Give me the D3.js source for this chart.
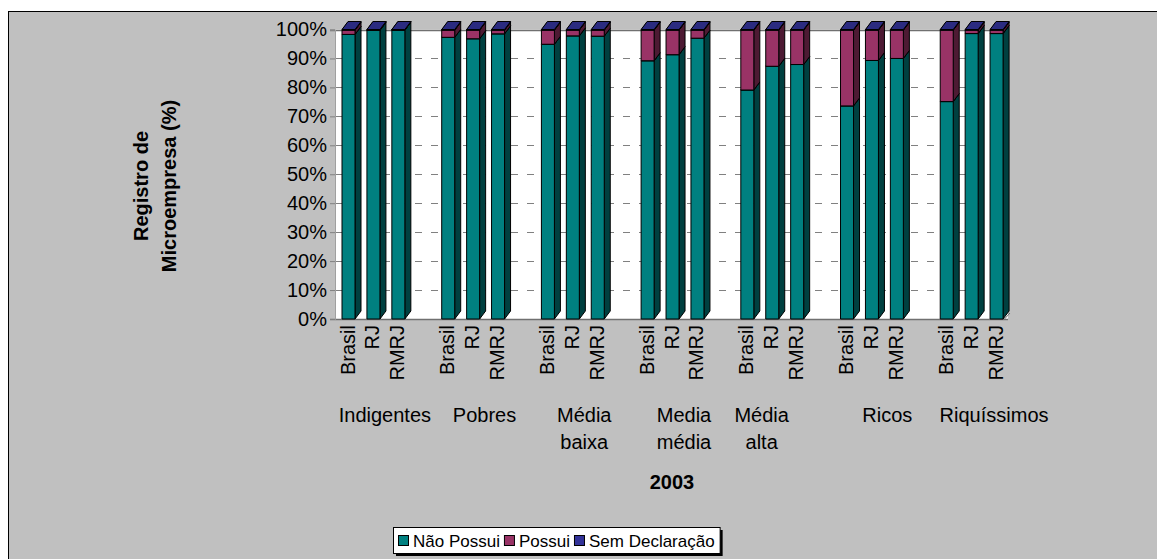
<!DOCTYPE html>
<html>
<head>
<meta charset="utf-8">
<script src="https://cdn.jsdelivr.net/npm/d3@7/dist/d3.min.js"></script>
<style>
  html, body { margin: 0; padding: 0; background: #ffffff; }
  svg { display: block; }
  text { font-family: "Liberation Sans", Arial, sans-serif; fill: #000; }
</style>
</head>
<body>
<svg id="chart" width="1157" height="559"></svg>
<script>
// Income groups and the three geographic cuts shown under each group
const groups = ["Indigentes", "Pobres", "Média baixa", "Media média", "Média alta", "Ricos", "Riquíssimos"];
const regions = ["Brasil", "RJ", "RMRJ"];

// Share of workers (%) by micro-enterprise registration, in group/region order
const naoPossui = [98.3, 99.7, 99.8, 97.3, 96.8, 98.5, 94.9, 97.8, 97.7, 89.2, 91.3, 97.0, 79.1, 87.3, 87.9, 73.6, 89.3, 90.0, 75.1, 98.6, 98.6];
const possui    = [1.5, 0.2, 0.1, 2.5, 3.0, 1.3, 4.9, 2.0, 2.1, 10.6, 8.5, 2.8, 20.7, 12.5, 11.9, 26.2, 10.5, 9.8, 24.7, 1.2, 1.2];
const semDecl   = [0.2, 0.1, 0.1, 0.2, 0.2, 0.2, 0.2, 0.2, 0.2, 0.2, 0.2, 0.2, 0.2, 0.2, 0.2, 0.2, 0.2, 0.2, 0.2, 0.2, 0.2];

const seriesNames = ["Não Possui", "Possui", "Sem Declaração"];
const yTicks = [0, 10, 20, 30, 40, 50, 60, 70, 80, 90, 100];
const xTitle = "2003";
const yTitle = ["Registro de", "Microempresa (%)"];

// Face colours: front, side, top
const palette = [
  { front: "#008080", side: "#004040", top: "#006666" },
  { front: "#993366", side: "#4d1a33", top: "#7a2952" },
  { front: "#333399", side: "#1a1a4d", top: "#2b2b80" }
];

const svg = d3.select("#chart");
const W = 1157, H = 559;
const FONT = 20;

// chart area background and frame
svg.append("rect").attr("x", 0).attr("y", 0).attr("width", W).attr("height", H).attr("fill", "#ffffff");
svg.append("rect").attr("x", 8.5).attr("y", 11.5).attr("width", W + 20).attr("height", H + 20)
  .attr("fill", "#c0c0c0").attr("stroke", "#000").attr("stroke-width", 1);

// rows: one per bar, with a blank slot after each group of three
const rows = [];
groups.forEach((g, gi) => regions.forEach((r, ri) => {
  const i = gi * 3 + ri;
  rows.push({ group: g, region: r, slot: gi * 4 + ri, values: [naoPossui[i], possui[i], semDecl[i]] });
}));
const nSlots = groups.length * 4 - 1;

const x = d3.scaleBand().domain(d3.range(nSlots)).range([335, 1008]).paddingInner(0).paddingOuter(0);
const y = d3.scaleLinear().domain([0, 100]).range([319, 29.5]);

const barOffset = 7, barW = 13, dx = 6, dy = 8;
const left = x.range()[0], right = x.range()[1];

// back wall
svg.append("rect").attr("x", left).attr("y", y(100)).attr("width", right - left).attr("height", y(0) - y(100))
  .attr("fill", "#ffffff");

// gridlines
svg.append("g").selectAll("line").data(yTicks.filter(t => t > 0 && t < 100)).join("line")
  .attr("x1", left).attr("x2", right)
  .attr("y1", d => Math.round(y(d)) + 0.5).attr("y2", d => Math.round(y(d)) + 0.5)
  .attr("stroke", "#808080").attr("stroke-width", 1).attr("stroke-dasharray", "7,9");

// top edge of the wall and floor line
svg.append("line").attr("x1", left - 5).attr("x2", right)
  .attr("y1", Math.round(y(100)) + 0.5).attr("y2", Math.round(y(100)) + 0.5)
  .attr("stroke", "#707070").attr("stroke-width", 1.5);
svg.append("line").attr("x1", left - 5).attr("x2", right)
  .attr("y1", Math.round(y(0)) + 0.5).attr("y2", Math.round(y(0)) + 0.5)
  .attr("stroke", "#707070").attr("stroke-width", 1.5);
// floor corner at the right end
svg.append("path")
  .attr("d", `M${right - 4},${y(0) + 0.5} L${right + 2},${y(0) - 6}`)
  .attr("stroke", "#707070").attr("fill", "none");

// y axis ticks and labels
const yAxis = d3.axisLeft(y).tickValues(yTicks).tickSize(5).tickPadding(3).tickFormat(d => d + "%");
const gy = svg.append("g").attr("transform", `translate(${left},0)`).call(yAxis);
gy.select(".domain").attr("stroke", "#a0a0a0").attr("stroke-width", 1);
gy.selectAll(".tick line").attr("stroke", "#808080");
gy.selectAll(".tick text").attr("font-size", FONT).attr("font-family", "Liberation Sans, Arial, sans-serif").attr("fill", "#000");

// 3D stacked bars
const bars = svg.append("g");
rows.forEach(row => {
  const x0 = x(row.slot) + barOffset;
  let acc = 0;
  row.values.forEach((v, si) => {
    const yb = y(acc), yt = y(acc + v);
    acc += v;
    const c = palette[si];
    const g = bars.append("g").attr("stroke", "#000").attr("stroke-width", 1).attr("stroke-linejoin", "round");
    // side
    g.append("path")
      .attr("d", `M${x0 + barW},${yb} L${x0 + barW + dx},${yb - dy} L${x0 + barW + dx},${yt - dy} L${x0 + barW},${yt} Z`)
      .attr("fill", c.side);
    // front
    g.append("rect").attr("x", x0).attr("y", yt).attr("width", barW).attr("height", Math.max(0, yb - yt))
      .attr("fill", c.front);
    // top
    g.append("path")
      .attr("d", `M${x0},${yt} L${x0 + dx},${yt - dy} L${x0 + barW + dx},${yt - dy} L${x0 + barW},${yt} Z`)
      .attr("fill", c.top);
  });
});

// region labels (rotated)
svg.append("g").selectAll("text").data(rows).join("text")
  .attr("transform", d => `translate(${x(d.slot) + barOffset + barW / 2 - 1},${y(0) + 6}) rotate(-90)`)
  .attr("text-anchor", "end").attr("dominant-baseline", "central")
  .attr("font-size", FONT).text(d => d.region);

// group labels, centred on each group's four slots
const groupNudge = [0, 0, 0, 0, -22, 4, 11];
const gl = svg.append("g");
groups.forEach((g, gi) => {
  const cx = x(gi * 4) + x.bandwidth() * 2 + groupNudge[gi];
  const t = gl.append("text").attr("text-anchor", "middle").attr("font-size", FONT);
  g.split(" ").forEach((w, li) => {
    t.append("tspan").attr("x", cx).attr("y", 422 + li * 27).text(w);
  });
});

// axis titles
svg.append("text").attr("x", 672).attr("y", 489).attr("text-anchor", "middle")
  .attr("font-size", FONT).attr("font-weight", "bold").text(xTitle);

const yt = svg.append("text").attr("transform", "translate(155,186) rotate(-90)")
  .attr("text-anchor", "middle").attr("font-size", FONT).attr("font-weight", "bold");
yTitle.forEach((s, i) => {
  yt.append("tspan").attr("x", 0).attr("y", (i - 0.5) * 28 + 7).text(s);
});

// legend
const legend = svg.append("g");
const lx = 393, ly = 527, lh = 26, LFONT = 17;
const items = legend.append("g");
let cx = lx + 5;
seriesNames.forEach((name, i) => {
  items.append("rect").attr("x", cx + 0.5).attr("y", ly + 8.5).attr("width", 10).attr("height", 10)
    .attr("fill", palette[i].front).attr("stroke", "#000");
  const t = items.append("text").attr("x", cx + 15).attr("y", ly + 20).attr("font-size", LFONT).text(name);
  cx += 15 + t.node().getComputedTextLength() + 4;
});
const lw = cx - lx + 1;
legend.insert("rect", ":first-child").attr("x", lx + 3).attr("y", ly + 3).attr("width", lw).attr("height", lh).attr("fill", "#000");
legend.insert("rect", "g").attr("x", lx + 0.5).attr("y", ly + 0.5).attr("width", lw).attr("height", lh)
  .attr("fill", "#ffffff").attr("stroke", "#000");
</script>
</body>
</html>
